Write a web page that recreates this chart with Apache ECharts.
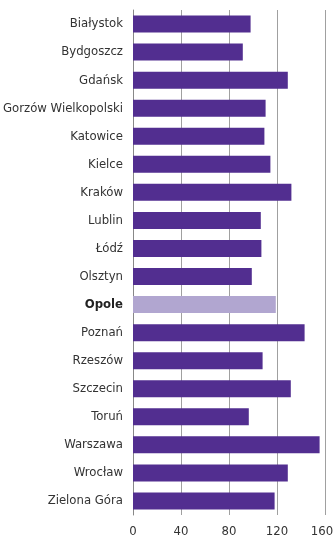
<!DOCTYPE html>
<html>
<head>
<meta charset="utf-8">
<script src="https://cdn.jsdelivr.net/npm/echarts@6/dist/echarts.min.js"></script>
<style>html,body{margin:0;padding:0;background:#fff}#c{width:335px;height:551px}</style>
</head>
<body>
<div id="c"></div>
<script>
const categories = ["Białystok","Bydgoszcz","Gdańsk","Gorzów Wielkopolski","Katowice","Kielce","Kraków","Lublin","Łódź","Olsztyn","Opole","Poznań","Rzeszów","Szczecin","Toruń","Warszawa","Wrocław","Zielona Góra"];
const values = [98, 91.5, 129, 110.5, 109.5, 114.5, 132, 106.5, 107, 99, 119, 143, 108, 131.5, 96.5, 155.5, 129, 118];
const highlight = "Opole";
const xTicks = [0, 40, 80, 120, 160];

const FONT = '"DejaVu Sans Condensed", "DejaVu Sans", sans-serif';
const chart = echarts.init(document.getElementById('c'), null, {renderer: 'canvas'});
chart.setOption({
  animation: false,
  grid: {left: 133, right: 10, top: 10, bottom: 36, containLabel: false, outerBoundsMode: 'none'},
  xAxis: {
    type: 'value', min: xTicks[0], max: xTicks[xTicks.length - 1], interval: 40,
    axisLine: {show: false}, axisTick: {show: false},
    splitLine: {show: true, lineStyle: {color: '#a0a0a0', width: 1}},
    axisLabel: {
      fontFamily: FONT, fontSize: 13, color: '#333', margin: 10,
      formatter: v => v === xTicks[xTicks.length - 1] ? '{m|' + v + '}' : String(v),
      rich: {m: {fontFamily: FONT, fontSize: 13, color: '#333', padding: [0, 6, 0, 0]}}
    }
  },
  yAxis: {
    type: 'category', data: categories, inverse: true,
    axisLine: {show: true, lineStyle: {color: '#888', width: 1}},
    axisTick: {show: false},
    axisLabel: {
      fontFamily: FONT, fontSize: 13, color: '#333', margin: 10,
      formatter: v => v === highlight ? '{b|' + v + '}' : v,
      rich: {b: {fontFamily: FONT, fontSize: 13, fontWeight: 'bold', color: '#222'}}
    }
  },
  series: [{
    type: 'bar',
    data: values.map((v, i) => ({value: v, itemStyle: {color: categories[i] === highlight ? '#b1a6d0' : '#522e90'}})),
    barWidth: 17
  }]
});
</script>
</body>
</html>
